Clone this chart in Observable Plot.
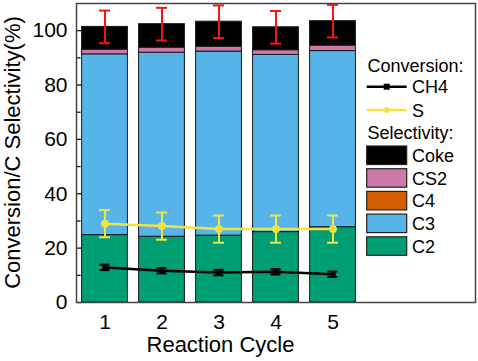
<!DOCTYPE html>
<html><head><meta charset="utf-8">
<script src="https://cdn.jsdelivr.net/npm/d3@7"></script>
<script src="https://cdn.jsdelivr.net/npm/@observablehq/plot@0.6"></script>
<style>
body{margin:0;background:#fff;}
#chart{width:478px;height:361px;}
</style></head><body><div id="chart"></div>
<script>
// ---- data ----
const cycles = [1, 2, 3, 4, 5];
const c2 = [24.8, 24.2, 24.6, 25.9, 27.7];
const c3 = [66.5, 67.7, 67.7, 65.2, 64.8];
const c4 = [0, 0, 0, 0, 0];
const cs2 = [1.7, 1.85, 1.8, 1.7, 2.0];
const coke = [8.4, 8.65, 9.2, 8.45, 9.0];
const selErr = [6, 6, 6, 6, 6];
const ch4 = [12.9, 11.7, 11.0, 11.3, 10.4];
const ch4Err = [1, 1, 1, 1, 1];
const sConv = [29.0, 28.1, 27.0, 27.0, 27.0];
const sErr = [5, 5, 5, 5, 5];
const seriesNames = ["C2", "C3", "C4", "CS2", "Coke"];
const seriesColors = ["#009e73", "#56b4e9", "#d55e00", "#cc79a7", "#000000"];
const yTicks = [0, 20, 40, 60, 80, 100];
const yMinor = [10, 30, 50, 70, 90];
const xDomain = [0.5, 7.5];
const yDomain = [0, 110];

// ---- derived tables ----
const series = [c2, c3, c4, cs2, coke];
const rows = [];
cycles.forEach((c, i) => {
  let base = 0;
  series.forEach((s, j) => {
    rows.push({cycle: c, type: seriesNames[j], y1: base, y2: base + s[i]});
    base += s[i];
  });
});
const totals = cycles.map((c, i) => ({cycle: c, total: series.reduce((a, s) => a + s[i], 0), err: selErr[i]}));
const conv = cycles.map((c, i) => ({cycle: c, ch4: ch4[i], ch4Err: ch4Err[i], s: sConv[i], sErr: sErr[i]}));

const font = "'Liberation Sans', Arial, sans-serif";
const edge = () => xDomain[0];

function errorBars(data, y, e, stroke, strokeWidth, cap) {
  return [
    Plot.ruleX(data, {x: "cycle", y1: d => d[y] - d[e], y2: d => d[y] + d[e], stroke, strokeWidth}),
    Plot.ruleY(data, {y: d => d[y] + d[e], x1: "cycle", x2: "cycle", insetLeft: -cap, insetRight: -cap, stroke, strokeWidth}),
    Plot.ruleY(data, {y: d => d[y] - d[e], x1: "cycle", x2: "cycle", insetLeft: -cap, insetRight: -cap, stroke, strokeWidth})
  ];
}

const plot = Plot.plot({
  width: 478, height: 361,
  marginTop: 3, marginBottom: 59, marginLeft: 76, marginRight: 3,
  style: {fontFamily: font, fontSize: "21px", color: "#000", background: "#fff"},
  x: {type: "linear", domain: xDomain},
  y: {domain: yDomain},
  color: {domain: seriesNames, range: seriesColors},
  marks: [
    Plot.rect(rows, {x1: d => d.cycle - 0.5, x2: d => d.cycle + 0.5, y1: "y1", y2: "y2", fill: "type",
      stroke: "#1a1a1a", strokeWidth: 1, insetLeft: 5.6, insetRight: 5.6}),
    ...errorBars(totals, "total", "err", "#ff1010", 2, 5.5),
    Plot.line(conv, {x: "cycle", y: "s", stroke: "#f0e442", strokeWidth: 2.5}),
    ...errorBars(conv, "s", "sErr", "#f0e442", 2, 5.5),
    Plot.dot(conv, {x: "cycle", y: "s", r: 3.2, fill: "#f0e442", stroke: "#f0e442"}),
    Plot.line(conv, {x: "cycle", y: "ch4", stroke: "#000", strokeWidth: 2.5}),
    ...errorBars(conv, "ch4", "ch4Err", "#000", 2, 5),
    Plot.dot(conv, {x: "cycle", y: "ch4", r: 3, symbol: "square", fill: "#000"}),
    Plot.frame({stroke: "#444", strokeWidth: 1.5}),
    Plot.ruleY(yTicks, {y: d => d, x1: edge, x2: edge, insetRight: -6, stroke: "#000", strokeWidth: 1.2}),
    Plot.ruleY(yMinor, {y: d => d, x1: edge, x2: edge, insetRight: -4.5, stroke: "#000", strokeWidth: 1.2}),
    Plot.axisY({ticks: yTicks, tickSize: 0, tickPadding: 9, fontSize: 21, label: null}),
    Plot.axisX({ticks: cycles, tickFormat: "d", tickSize: 0, tickPadding: 12, fontSize: 21, label: null})
  ]
});

const svg = d3.select(plot);
svg.select("[aria-label=frame]").raise();

// axis titles
svg.append("text").attr("transform", "translate(20,152.5) rotate(-90)")
  .attr("text-anchor", "middle").style("font-family", font).style("font-size", "22px")
  .attr("fill", "#000").text("Conversion/C Selectivity(%)");
svg.append("text").attr("x", 220.5).attr("y", 352)
  .attr("text-anchor", "middle").style("font-family", font).style("font-size", "22px")
  .attr("fill", "#000").text("Reaction Cycle");

// legend
const lg = svg.append("g").attr("text-anchor", "start").style("font-family", font).style("font-size", "18px").attr("fill", "#000");
lg.append("text").attr("x", 367.5).attr("y", 71.7).text("Conversion:");
const convLegend = [["CH4", "#000", "square", 86.7], ["S", "#f0e442", "circle", 110]];
convLegend.forEach(([name, col, sym, y]) => {
  lg.append("line").attr("x1", 366.7).attr("x2", 406.7).attr("y1", y).attr("y2", y)
    .attr("stroke", col).attr("stroke-width", 2.5);
  if (sym === "square") lg.append("rect").attr("x", 383.7).attr("y", y - 3).attr("width", 6).attr("height", 6).attr("fill", col);
  else lg.append("circle").attr("cx", 386.7).attr("cy", y).attr("r", 3).attr("fill", col);
  lg.append("text").attr("x", 412).attr("y", y + 6.6).text(name);
});
lg.append("text").attr("x", 367.5).attr("y", 139).text("Selectivity:");
const legendOrder = ["Coke", "CS2", "C4", "C3", "C2"];
legendOrder.forEach((name, k) => {
  const y0 = 146 + k * 22.7;
  lg.append("rect").attr("x", 366.7).attr("y", y0).attr("width", 40).attr("height", 18.5)
    .attr("fill", seriesColors[seriesNames.indexOf(name)]).attr("stroke", "#222").attr("stroke-width", 1.2);
  lg.append("text").attr("x", 412).attr("y", y0 + 16).text(name);
});

document.getElementById("chart").append(plot);
</script></body></html>
